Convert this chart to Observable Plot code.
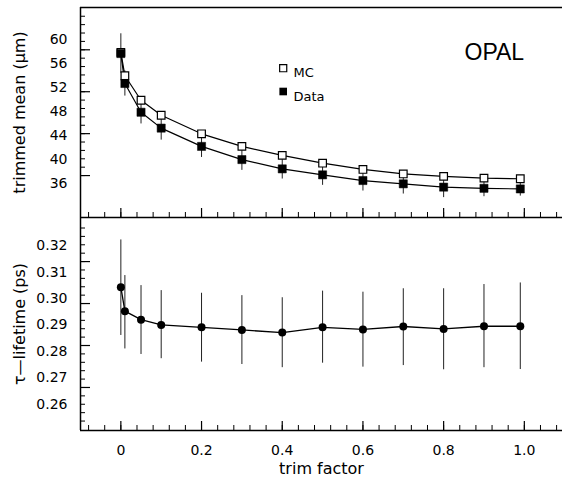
<!DOCTYPE html>
<html>
<head>
<meta charset="utf-8">
<script src="https://cdn.jsdelivr.net/npm/d3@7"></script>
<script src="https://cdn.jsdelivr.net/npm/@observablehq/plot@0.6"></script>
<style>
  html, body { margin: 0; padding: 0; background: #fff; }
  #chart { position: relative; width: 562px; height: 484px; overflow: hidden; }
  #chart svg { position: absolute; left: 0; }
</style>
</head>
<body>
<div id="chart"></div>
<script>
// ---- data ----
const trimFactor = [0, 0.01, 0.05, 0.1, 0.2, 0.3, 0.4, 0.5, 0.6, 0.7, 0.8, 0.9, 0.99];
const mcMean    = [57.9, 54.0, 49.9, 47.4, 44.3, 42.2, 40.7, 39.4, 38.35, 37.6, 37.2, 36.9, 36.8];
const dataMean  = [57.7, 52.7, 47.9, 45.25, 42.2, 40.0, 38.45, 37.45, 36.5, 35.95, 35.4, 35.2, 35.1];
const dataErr   = [3.3, 2.1, 1.95, 2.0, 1.85, 1.8, 1.7, 1.75, 1.75, 1.7, 1.75, 1.4, 1.2];
const tauLife   = [0.3043, 0.2952, 0.2920, 0.2900, 0.2891, 0.2881, 0.2871, 0.2891, 0.2883, 0.2894, 0.2885, 0.2895, 0.2895];
const tauLo     = [0.2860, 0.2809, 0.2788, 0.2772, 0.2759, 0.2750, 0.2738, 0.2755, 0.2740, 0.2746, 0.2730, 0.2738, 0.2731];
const tauHi     = [0.3222, 0.3087, 0.3049, 0.3030, 0.3020, 0.3011, 0.3003, 0.3028, 0.3024, 0.3037, 0.3037, 0.3053, 0.3059];

// ---- tick labels ----
const trimTicks = [0, 0.2, 0.4, 0.6, 0.8, 1.0];
const trimTickLabels = ["0", "0.2", "0.4", "0.6", "0.8", "1.0"];
const meanTicks = [36, 40, 44, 48, 52, 56, 60];
const tauTicks = [0.26, 0.27, 0.28, 0.29, 0.30, 0.31, 0.32];
const tauTickLabels = ["0.26", "0.27", "0.28", "0.29", "0.30", "0.31", "0.32"];

// ---- rows built from the arrays ----
const rows = trimFactor.map((t, i) => ({
  t, mc: mcMean[i], data: dataMean[i], lo: dataMean[i] - dataErr[i], hi: dataMean[i] + dataErr[i],
  tau: tauLife[i], tlo: tauLo[i], thi: tauHi[i]
}));

const W = 562, ML = 80, MR = 0;
const PW = W - ML - MR;
const xDomain = [-0.1, 1.0946];
const font = "DejaVu Sans";

// minor tick positions (decoration only)
const xMinor = d3.range(-2, 28).map(k => +(k * 0.04).toFixed(3)).filter(v => v > xDomain[0] && v < xDomain[1]);
const xMajor = trimTicks;

function xTicksBottom(H) {
  return [
    Plot.tickX(xMinor, {x: d => d, insetTop: H - 5, stroke: "black", strokeWidth: 1}),
    Plot.tickX(xMajor, {x: d => d, insetTop: H - 9, stroke: "black", strokeWidth: 1.2})
  ];
}
function yTicksLeft(minor, major) {
  return [
    Plot.tickY(minor, {y: d => d, insetRight: PW - 5, stroke: "black", strokeWidth: 1}),
    Plot.tickY(major, {y: d => d, insetRight: PW - 10, stroke: "black", strokeWidth: 1.2})
  ];
}

// ---------------- top panel ----------------
const topH = 220, topMT = 7, topMB = 3;
const topPH = topH - topMT - topMB;
const meanDomain = [30.33, 65.39];
const meanMajor = [58.33, 51.33, 44.33, 37.33];
const meanMinor = d3.range(-4, 20).map(k => 63.93 - 1.4 * k).filter(v => v > meanDomain[0] + 0.3 && v < meanDomain[1] - 0.3);

const topPlot = Plot.plot({
  width: W, height: topH,
  marginLeft: ML, marginRight: MR, marginTop: topMT, marginBottom: topMB,
  x: {domain: xDomain, axis: null},
  y: {domain: meanDomain, axis: null},
  style: {fontFamily: font, fontSize: "14px", background: "white", color: "black", overflow: "visible"},
  marks: [
    ...xTicksBottom(topPH),
    ...yTicksLeft(meanMinor, meanMajor),
    Plot.axisY({ticks: meanTicks, tickSize: 0, tickPadding: 13, label: null, fontSize: 14}),
    Plot.ruleX([xDomain[0]], {stroke: "black", strokeWidth: 1.5}),
    Plot.ruleY([meanDomain[0], meanDomain[1]], {stroke: "black", strokeWidth: 1.5}),
    Plot.ruleX(rows, {x: "t", y1: "lo", y2: "hi", stroke: "#222", strokeWidth: 1}),
    Plot.line(rows, {x: "t", y: "mc", stroke: "black", strokeWidth: 1.2}),
    Plot.line(rows, {x: "t", y: "data", stroke: "black", strokeWidth: 1.2}),
    Plot.dot(rows, {x: "t", y: "mc", symbol: "square", r: 4.3, fill: "white", stroke: "black", strokeWidth: 1.2}),
    Plot.dot(rows, {x: "t", y: "data", symbol: "square", r: 4.6, fill: "black", stroke: "black", strokeWidth: 0.5}),
    // legend
    Plot.dot([0], {frameAnchor: "top-left", dx: 202.7, dy: 60.7, symbol: "square", r: 4, fill: "white", stroke: "black", strokeWidth: 1.2}),
    Plot.dot([0], {frameAnchor: "top-left", dx: 202.7, dy: 84, symbol: "square", r: 4.3, fill: "black"}),
    Plot.text(["MC"], {frameAnchor: "top-left", dx: 213, dy: 60.7, text: d => d, textAnchor: "start", fontSize: 13, fill: "black"}),
    Plot.text(["Data"], {frameAnchor: "top-left", dx: 213, dy: 84, text: d => d, textAnchor: "start", fontSize: 13, fill: "black"}),
    Plot.text(["OPAL"], {frameAnchor: "top-left", dx: 384, dy: 36.3, text: d => d, textAnchor: "start", fontSize: 23, fontFamily: "Liberation Sans", fill: "black"}),
    Plot.text(["trimmed mean (\u03bcm)"], {frameAnchor: "left", dx: -61, text: d => d, textAnchor: "middle", rotate: -90, fontSize: 16, fill: "black"})
  ]
});
topPlot.style.top = "0px";

// ---------------- bottom panel ----------------
const botTop = 210, botH = 484 - botTop, botMT = 7, botMB = 54;
const botPH = botH - botMT - botMB;
const tauDomain = [0.25, 0.3307];
const tauMajor = [0.3140, 0.2981, 0.2822, 0.2663];
const tauMinor = d3.range(-5, 22).map(k => 0.3140 - 0.00318 * k).filter(v => v > tauDomain[0] + 0.001 && v < tauDomain[1] - 0.001);

const bottomPlot = Plot.plot({
  width: W, height: botH,
  marginLeft: ML, marginRight: MR, marginTop: botMT, marginBottom: botMB,
  x: {domain: xDomain},
  y: {domain: tauDomain, axis: null},
  style: {fontFamily: font, fontSize: "14px", background: "transparent", color: "black", overflow: "visible"},
  marks: [
    ...xTicksBottom(botPH),
    ...yTicksLeft(tauMinor, tauMajor),
    Plot.axisY({ticks: tauTicks, tickFormat: (d, i) => tauTickLabels[i], tickSize: 0, tickPadding: 13, label: null, fontSize: 14}),
    Plot.axisX({ticks: trimTicks, tickFormat: (d, i) => trimTickLabels[i], tickSize: 0, tickPadding: 15, label: null, fontSize: 14}),
    Plot.ruleX([xDomain[0]], {stroke: "black", strokeWidth: 1.5}),
    Plot.ruleY([tauDomain[0]], {stroke: "black", strokeWidth: 1.5}),
    Plot.ruleX(rows, {x: "t", y1: "tlo", y2: "thi", stroke: "#222", strokeWidth: 1}),
    Plot.line(rows, {x: "t", y: "tau", stroke: "black", strokeWidth: 1.3}),
    Plot.dot(rows, {x: "t", y: "tau", r: 4, fill: "black"}),
    Plot.text(["\u03c4\u2014lifetime (ps)"], {frameAnchor: "left", dx: -61, text: d => d, textAnchor: "middle", rotate: -90, fontSize: 16, fill: "black"}),
    Plot.text(["trim factor"], {frameAnchor: "bottom", dy: 43, text: d => d, fontSize: 16, fill: "black"})
  ]
});
bottomPlot.style.top = botTop + "px";

const chart = document.getElementById("chart");
chart.append(topPlot, bottomPlot);
</script>
</body>
</html>
